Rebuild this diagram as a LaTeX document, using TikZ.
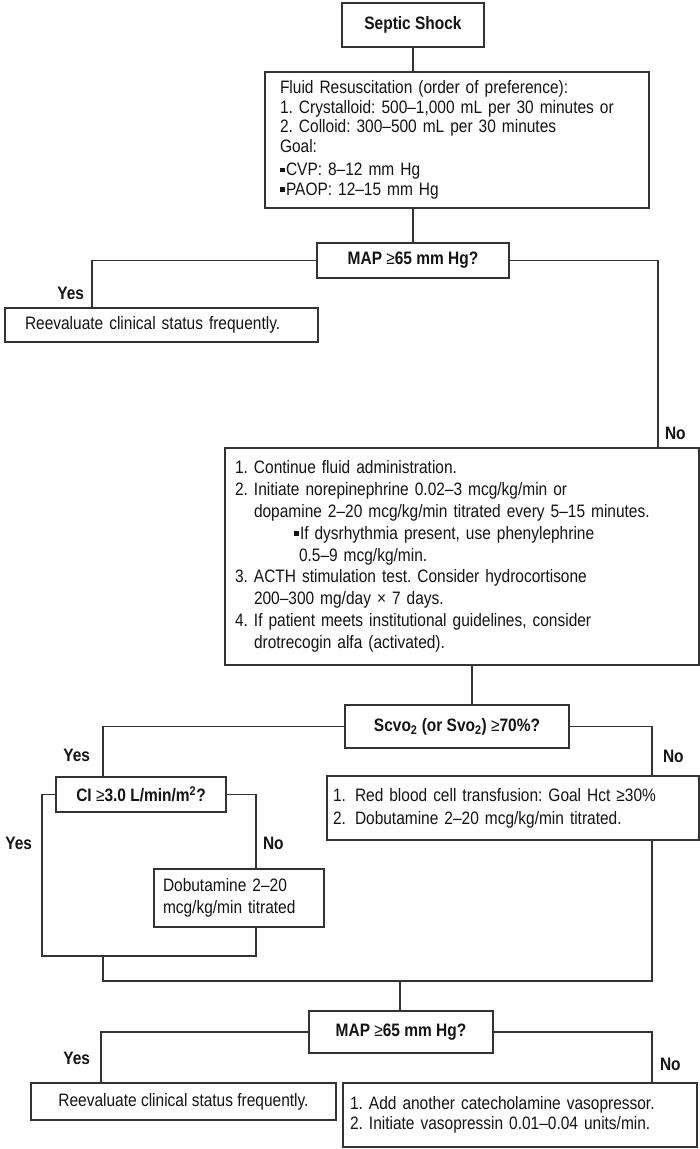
\documentclass[tikz,border=0pt]{standalone}
\usepackage{fontspec}
\setmainfont{Liberation Sans}[FakeStretch=0.86]
\frenchspacing
\newcommand{\sqbullet}{\rule[3.5pt]{4.5pt}{4.5pt}\hspace{1.5pt}}
\newcommand{\itemno}[1]{\makebox[19pt][l]{#1}}
\begin{document}
\begin{tikzpicture}[x=1pt,y=-1pt,
  every node/.style={inner sep=0pt, outer sep=0pt, text=black!92},
  frame/.style={draw=black!80, line width=1.3pt, rectangle, anchor=north west},
  plain/.style={frame, font=\fontsize{18}{21.5}\selectfont, align=left},
  query/.style={frame, font=\bfseries\fontsize{18}{20}\selectfont, align=center},
  answer/.style={font=\bfseries\fontsize{18}{20}\selectfont},
  link/.style={draw=black!80, line width=1.3pt},
]
\useasboundingbox (0,0) rectangle (700,1149);
\fill[white] (0,0) rectangle (700,1149);

% ---- boxes ----
\node[query, minimum width=142pt, minimum height=44pt] (septic) at (342,3) {Septic Shock};

\node[plain, font=\fontsize{18}{19.5}\selectfont, minimum width=384pt, minimum height=136pt,
      text width=354pt, inner xsep=15pt] (fluid) at (265,72)
 {Fluid Resuscitation (order of preference):\\
  \itemno{1.}Crystalloid: 500–1,000 mL per 30 minutes or\\
  \itemno{2.}Colloid: 300–500 mL per 30 minutes\\
  Goal:\\[4pt]
  \sqbullet CVP: 8–12 mm Hg\\
  \sqbullet PAOP: 12–15 mm Hg};

\node[query, minimum width=192pt, minimum height=35pt] (map1) at (317,243)
 {MAP {\mdseries ≥}65 mm Hg?};

\node[plain, minimum width=313pt, minimum height=34pt, text width=273pt, inner xsep=20pt]
 (reeval1) at (5,308) {Reevaluate clinical status frequently.};

\node[plain, font=\fontsize{18}{21.8}\selectfont, minimum width=474pt, minimum height=217pt,
      text width=454pt, inner xsep=10pt] (big) at (225,448)
 {\itemno{1.}Continue fluid administration.\\
  \itemno{2.}Initiate norepinephrine 0.02–3 mcg/kg/min or\\
  \hspace*{19pt}dopamine 2–20 mcg/kg/min titrated every 5–15 minutes.\\
  \hspace*{59pt}\sqbullet If dysrhythmia present, use phenylephrine\\
  \hspace*{64pt}0.5–9 mcg/kg/min.\\
  \itemno{3.}ACTH stimulation test. Consider hydrocortisone\\
  \hspace*{19pt}200–300 mg/day × 7 days.\\
  \itemno{4.}If patient meets institutional guidelines, consider\\
  \hspace*{19pt}drotrecogin alfa (activated).};

\node[query, minimum width=224pt, minimum height=43pt] (scvo) at (345,705)
 {Scvo\textsubscript{2} (or Svo\textsubscript{2}) {\mdseries ≥}70\%?};

\node[query, minimum width=170pt, minimum height=35pt] (ci) at (56,777)
 {CI {\mdseries ≥}3.0 L/min/m\textsuperscript{2}?};

\node[plain, font=\fontsize{18}{22}\selectfont, minimum width=170pt, minimum height=58pt,
      text width=152pt, inner xsep=9pt] (dobut) at (154,869)
 {Dobutamine 2–20\\mcg/kg/min titrated};

\node[plain, font=\fontsize{18}{23}\selectfont, minimum width=372pt, minimum height=64pt,
      text width=360pt, inner xsep=6pt] (rbc) at (327,776)
 {\makebox[22pt][l]{1.}Red blood cell transfusion: Goal Hct ≥30\%\\
  \makebox[22pt][l]{2.}Dobutamine 2–20 mcg/kg/min titrated.};

\node[query, minimum width=184pt, minimum height=42pt] (map2) at (309,1011)
 {MAP {\mdseries ≥}65 mm Hg?};

\node[plain, minimum width=305pt, minimum height=37pt] (reeval2) at (31,1083)
 {Reevaluate clinical status frequently.};

\node[plain, font=\fontsize{18}{20.5}\selectfont, minimum width=354pt, minimum height=64pt,
      text width=340pt, inner xsep=7pt] (vaso) at (343,1083)
 {\makebox[19pt][l]{1.}Add another catecholamine vasopressor.\\
  \makebox[19pt][l]{2.}Initiate vasopressin 0.01–0.04 units/min.};

% ---- junction points ----
\coordinate (c1) at (92,308);
\coordinate (c2) at (658,448);
\coordinate (c3) at (472,665);
\coordinate (c4) at (103,777);
\coordinate (c5) at (652,776);
\coordinate (c6) at (42,956);
\coordinate (c7) at (256,956);
\coordinate (c8) at (256,869);
\coordinate (c9) at (256,927);
\coordinate (c10) at (103,956);
\coordinate (c11) at (103,981);
\coordinate (c12) at (652,840);
\coordinate (c13) at (652,981);
\coordinate (c14) at (400,981);
\coordinate (c15) at (101,1083);
\coordinate (c16) at (652,1083);

% ---- connectors ----
\draw[link] (septic.south) -- (septic.south |- fluid.north);
\draw[link] (map1.north) -- (map1.north |- fluid.south);
\draw[link] (map1.west) -| (c1);
\draw[link] (map1.east) -| (c2);
\draw[link] (c3) -- (c3 |- scvo.north);
\draw[link] (scvo.west) -| (c4);
\draw[link] (scvo.east) -| (c5);
\draw[link] (ci.west) -| (c6) -- (c7) -- (c9);
\draw[link] (ci.east) -| (c8);
\draw[link] (c10) -- (c11) -- (c13) -- (c12);
\draw[link] (c14) -- (c14 |- map2.north);
\draw[link] (map2.west) -| (c15);
\draw[link] (map2.east) -| (c16);

% ---- branch labels ----
\node[answer, anchor=east] (yes1) at (84,293) {Yes};
\node[answer, anchor=west] (no1) at (665,433) {No};
\node[answer, anchor=east] (yes2) at (90,755) {Yes};
\node[answer, anchor=west] (no2) at (663,756) {No};
\node[answer, anchor=east] (yes3) at (32,843) {Yes};
\node[answer, anchor=west] (no3) at (263,843) {No};
\node[answer, anchor=east] (yes4) at (90,1058) {Yes};
\node[answer, anchor=west] (no4) at (660,1064) {No};
\end{tikzpicture}
\end{document}
